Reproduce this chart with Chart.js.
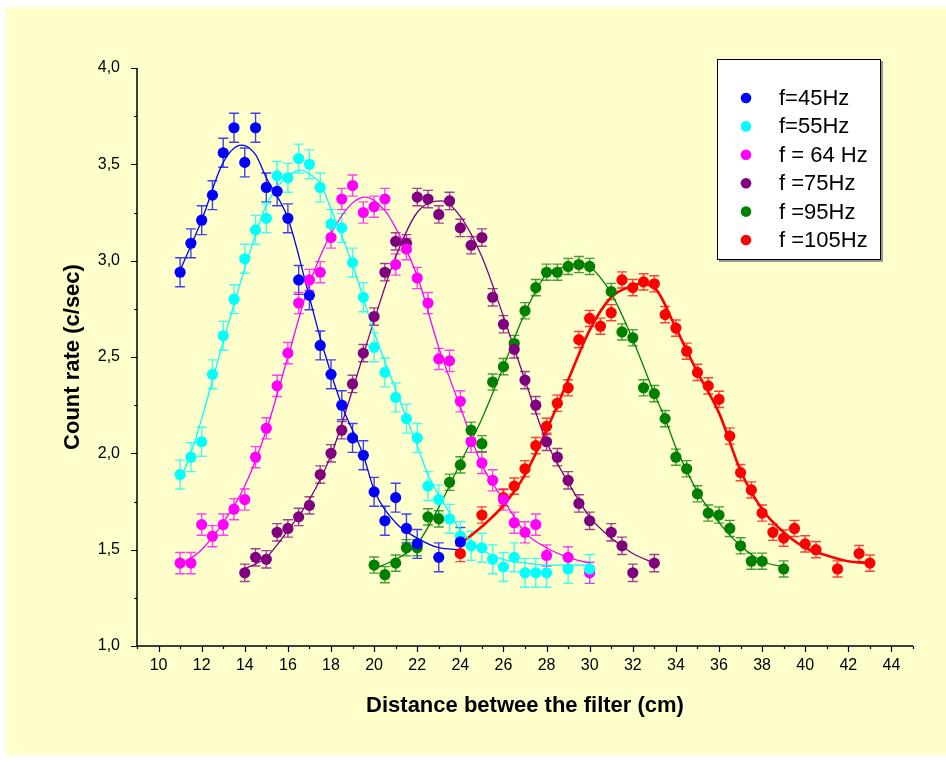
<!DOCTYPE html>
<html>
<head>
<meta charset="utf-8">
<script src="https://cdn.jsdelivr.net/npm/chart.js@4.4.0/dist/chart.umd.min.js"></script>
<style>
  body { margin: 0; background: #fff; }
  canvas { display: block; }
</style>
</head>
<body>
<canvas id="chart" width="946" height="762"></canvas>
<script>
// measured points (distance in cm, count rate in c/sec)
const x45 = [11,11.5,12,12.5,13,13.5,14,14.5,15,15.5,16,16.5,17,17.5,18,18.5,19,19.5,20,20.5,21,21.5,22,23,24];
const y45 = [2.94,3.09,3.21,3.34,3.56,3.69,3.51,3.69,3.38,3.36,3.22,2.90,2.82,2.56,2.41,2.25,2.08,1.99,1.80,1.65,1.77,1.61,1.53,1.46,1.54];

const x55 = [11,11.5,12,12.5,13,13.5,14,14.5,15,15.5,16,16.5,17,17.5,18,18.5,19,19.5,20,20.5,21,21.5,22,22.5,23,23.5,24,24.5,25,25.5,26,26.5,27,27.5,28,29,30];
const y55 = [1.89,1.98,2.06,2.41,2.61,2.80,3.01,3.16,3.22,3.44,3.43,3.53,3.50,3.38,3.19,3.17,2.99,2.81,2.55,2.42,2.29,2.18,2.08,1.83,1.76,1.66,1.57,1.52,1.51,1.45,1.41,1.46,1.38,1.38,1.38,1.40,1.40];

const x64 = [11,11.5,12,12.5,13,13.5,14,14.5,15,15.5,16,16.5,17,17.5,18,18.5,19,19.5,20,20.5,21,21.5,22,22.5,23,23.5,24,24.5,25,25.5,26,26.5,27,27.5,28,29,30];
const y64 = [1.43,1.43,1.63,1.57,1.63,1.71,1.76,1.98,2.13,2.35,2.52,2.78,2.90,2.94,3.12,3.32,3.39,3.25,3.28,3.32,2.98,3.06,2.91,2.78,2.49,2.48,2.27,2.06,1.95,1.86,1.76,1.64,1.59,1.63,1.47,1.46,1.38];

const x75 = [14,14.5,15,15.5,16,16.5,17,17.5,18,18.5,19,19.5,20,20.5,21,21.5,22,22.5,23,23.5,24,24.5,25,25.5,26,26.5,27,27.5,28,28.5,29,29.5,30,31,31.5,32,33];
const y75 = [1.38,1.46,1.45,1.59,1.61,1.67,1.73,1.89,2.00,2.12,2.36,2.52,2.71,2.94,3.10,3.09,3.33,3.32,3.24,3.31,3.17,3.08,3.12,2.81,2.67,2.54,2.38,2.25,2.06,1.98,1.86,1.74,1.65,1.59,1.52,1.38,1.43];

const x95 = [20,20.5,21,21.5,22,22.5,23,23.5,24,24.5,25,25.5,26,26.5,27,27.5,28,28.5,29,29.5,30,31,31.5,32,32.5,33,33.5,34,34.5,35,35.5,36,36.5,37,37.5,38,39];
const y95 = [1.42,1.37,1.43,1.51,1.51,1.67,1.66,1.85,1.94,2.12,2.05,2.37,2.45,2.57,2.74,2.86,2.94,2.94,2.97,2.98,2.97,2.84,2.63,2.60,2.34,2.31,2.18,1.98,1.92,1.79,1.69,1.68,1.61,1.52,1.44,1.44,1.40];

const x105 = [24,25,26,26.5,27,27.5,28,28.5,29,29.5,30,30.5,31,31.5,32,32.5,33,33.5,34,34.5,35,35.5,36,36.5,37,37.5,38,38.5,39,39.5,40,40.5,41.5,42.5,43];
const y105 = [1.48,1.68,1.77,1.83,1.92,2.04,2.14,2.26,2.34,2.59,2.70,2.66,2.73,2.90,2.86,2.89,2.88,2.72,2.65,2.53,2.42,2.35,2.28,2.09,1.90,1.81,1.69,1.59,1.56,1.61,1.53,1.50,1.40,1.48,1.43];

// fitted curves
const fitX45 = [11,12,13,13.85,14.5,15,16,17,17.5,18.5,19.5,20,21,22,23,24];
const fitY45 = [2.95,3.21,3.51,3.60,3.55,3.43,3.22,2.81,2.60,2.25,1.99,1.81,1.64,1.56,1.51,1.50];
const fitX55 = [11,11.5,12,13,14,15,15.5,16,16.6,17,17.5,18,19,20,21,22,22.5,23.5,24,25,26,27,28,30];
const fitY55 = [1.86,2.00,2.18,2.58,2.96,3.29,3.38,3.44,3.47,3.45,3.40,3.27,2.98,2.63,2.33,2.04,1.89,1.69,1.60,1.50,1.45,1.43,1.42,1.42];
const fitX64 = [11,12,13,14,15,16,17,18,19,19.6,20.5,21,22,23,24,25,26,27,28,29,30];
const fitY64 = [1.42,1.50,1.64,1.83,2.12,2.50,2.88,3.14,3.30,3.33,3.26,3.17,2.92,2.55,2.24,1.94,1.76,1.59,1.51,1.46,1.43];
const fitX75 = [14,15,16,17,18,19,20,21,22,23.1,24,25,26,27,28,29,30,31,32,33];
const fitY75 = [1.40,1.46,1.60,1.76,1.99,2.33,2.69,3.02,3.25,3.31,3.23,3.02,2.71,2.38,2.06,1.85,1.67,1.56,1.48,1.43];
const fitX95 = [20,21,22,23,24,25,26,27,28,29,29.5,30,31,32,33,33.5,34,34.5,35,36,37,38,39];
const fitY95 = [1.40,1.45,1.53,1.72,1.95,2.18,2.45,2.73,2.93,2.97,2.99,2.97,2.83,2.59,2.31,2.18,2.03,1.91,1.80,1.64,1.52,1.44,1.41];
const fitX105 = [24,25,26,27,28,29,30,31,32,32.3,33,34,35,36,37,38,39,40,41,42,43];
const fitY105 = [1.53,1.62,1.73,1.89,2.12,2.38,2.64,2.81,2.87,2.88,2.86,2.65,2.42,2.21,1.91,1.71,1.59,1.51,1.47,1.44,1.43];

const labels = ['f=45Hz', 'f=55Hz', 'f = 64 Hz', 'f =75Hz', 'f =95Hz', 'f =105Hz'];
const colors = ['#0000FF', '#00FFFF', '#FF00FF', '#800080', '#008000', '#FF0000'];
const errBars = [0.075, 0.075, 0.055, 0.045, 0.042, 0.042];
const xMajor = [10,12,14,16,18,20,22,24,26,28,30,32,34,36,38,40,42,44];
const yMajor = [1, 1.5, 2, 2.5, 3, 3.5, 4];

const pointSets = [[x45, y45], [x55, y55], [x64, y64], [x75, y75], [x95, y95], [x105, y105]];
const fitSets = [[fitX45, fitY45], [fitX55, fitY55], [fitX64, fitY64], [fitX75, fitY75], [fitX95, fitY95], [fitX105, fitY105]];

function pts(xs, ys) {
  return xs.map((x, i) => ({x: x, y: ys[i]}));
}
function isMajor(list, v) {
  return list.some(m => Math.abs(m - v) < 1e-6);
}
function rgba(hex, a) {
  const n = parseInt(hex.slice(1), 16);
  return 'rgba(' + (n >> 16) + ',' + ((n >> 8) & 255) + ',' + (n & 255) + ',' + a + ')';
}

const FONT = "'Liberation Sans', Arial, sans-serif";

const datasets = [];
fitSets.forEach((s, i) => {
  datasets.push({
    label: labels[i] + ' fit',
    data: pts(s[0], s[1]),
    showLine: true,
    borderColor: colors[i],
    borderWidth: i === 5 ? 2.6 : 1.3,
    pointRadius: 0,
    cubicInterpolationMode: 'monotone',
    isFit: true,
    order: 2
  });
});
pointSets.forEach((s, i) => {
  datasets.push({
    label: labels[i],
    data: pts(s[0], s[1]),
    showLine: false,
    backgroundColor: colors[i],
    borderColor: colors[i],
    borderWidth: 0,
    pointRadius: 5.6,
    pointHoverRadius: 5.6,
    err: errBars[i],
    order: 1
  });
});

const paper = {
  id: 'paper',
  beforeDraw(chart) {
    const c = chart.ctx;
    c.save();
    c.fillStyle = '#ffffff';
    c.fillRect(0, 0, chart.width, chart.height);
    c.fillStyle = '#FFFFCC';
    c.fillRect(5, 7, chart.width - 5, chart.height - 14);
    c.restore();
  },
  beforeDatasetsDraw(chart) {
    const c = chart.ctx;
    const a = chart.chartArea;
    const xs = chart.scales.x, ys = chart.scales.y;
    c.save();
    c.strokeStyle = '#000';
    c.lineWidth = 1.5;
    c.beginPath();
    c.moveTo(a.left, a.top);
    c.lineTo(a.left, a.bottom);
    c.lineTo(a.right, a.bottom);
    c.stroke();
    c.lineWidth = 1.2;
    c.beginPath();
    ys.ticks.forEach(t => {
      const p = Math.round(ys.getPixelForValue(t.value)) + 0.5;
      const len = isMajor(yMajor, t.value) ? 6 : 3;
      c.moveTo(a.left - len, p);
      c.lineTo(a.left, p);
    });
    xs.ticks.forEach(t => {
      const p = Math.round(xs.getPixelForValue(t.value)) + 0.5;
      const len = isMajor(xMajor, t.value) ? 6 : 3;
      c.moveTo(p, a.bottom);
      c.lineTo(p, a.bottom + len);
    });
    c.stroke();

    // error bars
    chart.data.datasets.forEach((ds, di) => {
      if (!ds.err) return;
      c.strokeStyle = rgba(ds.borderColor, 0.75);
      c.lineWidth = 1.4;
      c.beginPath();
      ds.data.forEach(p => {
        const px = xs.getPixelForValue(p.x);
        const top = ys.getPixelForValue(p.y + ds.err);
        const bot = ys.getPixelForValue(p.y - ds.err);
        c.moveTo(px, top); c.lineTo(px, bot);
        c.moveTo(px - 5, top); c.lineTo(px + 5, top);
        c.moveTo(px - 5, bot); c.lineTo(px + 5, bot);
      });
      c.stroke();
    });
    c.restore();
  },
  afterDraw(chart) {
    // legend box
    const c = chart.ctx;
    c.save();
    c.fillStyle = '#9a9a9a';
    c.fillRect(719, 61, 164, 201);
    c.fillStyle = '#ffffff';
    c.fillRect(717, 59, 164, 201);
    c.strokeStyle = '#000';
    c.lineWidth = 1;
    c.strokeRect(717.5, 59.5, 163, 200);
    c.font = '22px ' + FONT;
    c.textBaseline = 'middle';
    c.textAlign = 'left';
    chart.data.datasets.filter(d => !d.isFit).forEach((d, i) => {
      const y = 98 + i * 28.4;
      c.fillStyle = d.backgroundColor;
      c.beginPath();
      c.arc(746, y, 5.3, 0, Math.PI * 2);
      c.fill();
      c.fillStyle = '#000';
      c.fillText(d.label, 779, y + 1);
    });
    c.restore();
  }
};

new Chart(document.getElementById('chart'), {
  type: 'scatter',
  data: { datasets: datasets },
  plugins: [paper],
  options: {
    responsive: false,
    animation: false,
    devicePixelRatio: 1,
    layout: { padding: { top: 68, right: 33, left: 0, bottom: 0 } },
    plugins: { legend: { display: false }, tooltip: { enabled: false } },
    scales: {
      x: {
        type: 'linear',
        min: 9, max: 45,
        afterFit(s) { s.height = 116; },
        grid: { display: false, drawTicks: false },
        border: { display: false },
        ticks: {
          stepSize: 1, autoSkip: false, maxRotation: 0, padding: 10,
          color: '#000', font: { family: FONT, size: 16 },
          callback: v => isMajor(xMajor, v) ? String(v) : ''
        },
        title: {
          display: true,
          text: 'Distance betwee the filter (cm)',
          color: '#000',
          font: { family: FONT, size: 22, weight: 'bold' },
          padding: { top: 0, bottom: 43 }
        }
      },
      y: {
        type: 'linear',
        min: 1, max: 4,
        afterFit(s) { s.width = 137; },
        grid: { display: false, drawTicks: false },
        border: { display: false },
        ticks: {
          stepSize: 0.25, autoSkip: false, padding: 17,
          color: '#000', font: { family: FONT, size: 16 },
          callback: v => isMajor(yMajor, v) ? v.toFixed(1).replace('.', ',') : ''
        },
        title: {
          display: true,
          text: 'Count rate (c/sec)',
          color: '#000',
          font: { family: FONT, size: 22, weight: 'bold' },
          padding: { top: 60, bottom: 0 }
        }
      }
    }
  }
});
</script>
</body>
</html>
